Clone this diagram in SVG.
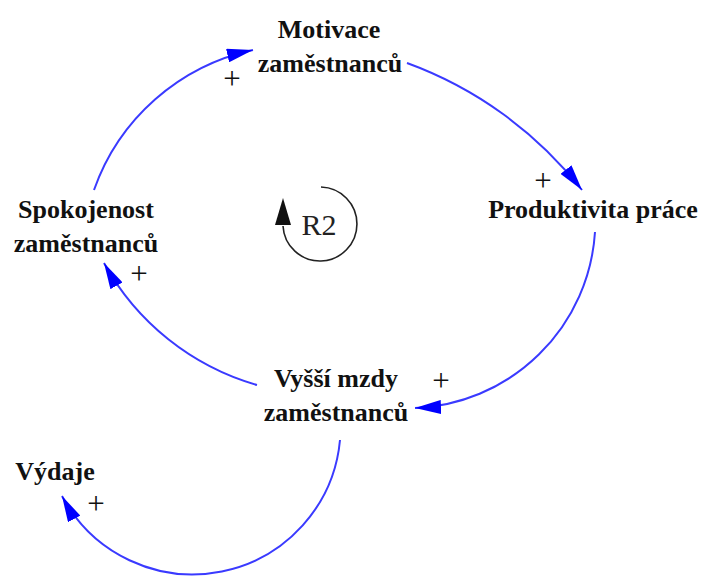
<svg xmlns="http://www.w3.org/2000/svg" width="702" height="576" viewBox="0 0 702 576">
  <style>
    .lbl { font-family: "Liberation Serif", "Times New Roman", serif; font-size: 26px; font-weight: bold; fill: #111; text-anchor: middle; }
    .pol { font-family: "Liberation Serif", "Times New Roman", serif; font-size: 31px; fill: #111; text-anchor: middle; }
    .loop { font-family: "Liberation Serif", "Times New Roman", serif; font-size: 30px; fill: #222; text-anchor: middle; }
    .link { fill: none; stroke: #3a3aff; stroke-width: 2; marker-end: url(#head); }
  </style>
  <defs>
    <marker id="head" markerUnits="userSpaceOnUse" viewBox="0 0 26 14" markerWidth="26" markerHeight="14" refX="26" refY="7" orient="auto">
      <path d="M0,0 L26,7 L0,14 z" fill="#0000ff"/>
    </marker>
  </defs>
  <rect width="702" height="576" fill="#ffffff"/>

  <!-- causal links -->
  <g id="links">
    <path class="link" d="M 94 190 A 217 217 0 0 1 253 50"/>
    <path class="link" d="M 407 63 A 394 394 0 0 1 582 190"/>
    <path class="link" d="M 595 232 A 188 188 0 0 1 415 408"/>
    <path class="link" d="M 257 385 A 255 255 0 0 1 104 263"/>
    <path class="link" d="M 340 440 A 148 148 0 0 1 62 496"/>
  </g>

  <!-- link polarities -->
  <g id="polarities">
    <text class="pol" x="232" y="89">+</text>
    <text class="pol" x="543" y="191">+</text>
    <text class="pol" x="441" y="391">+</text>
    <text class="pol" x="139" y="284">+</text>
    <text class="pol" x="96" y="514">+</text>
  </g>

  <!-- reinforcing loop marker -->
  <g id="loop-R2">
    <path d="M 321 187 A 37 37 0 1 1 283 226" fill="none" stroke="#222" stroke-width="1.6"/>
    <path d="M 283 198 L 291 225 L 275 225 z" fill="#111"/>
    <text class="loop" x="319" y="235">R2</text>
  </g>

  <g id="motivace">
    <text class="lbl" x="329" y="38">Motivace</text>
    <text class="lbl" x="330" y="72">zaměstnanců</text>
  </g>
  <g id="produktivita">
    <text class="lbl" x="593" y="218">Produktivita práce</text>
  </g>
  <g id="spokojenost">
    <text class="lbl" x="86" y="218">Spokojenost</text>
    <text class="lbl" x="86" y="252">zaměstnanců</text>
  </g>
  <g id="mzdy">
    <text class="lbl" x="336" y="387">Vyšší mzdy</text>
    <text class="lbl" x="336" y="421">zaměstnanců</text>
  </g>
  <g id="vydaje">
    <text class="lbl" x="55" y="480">Výdaje</text>
  </g>
</svg>
